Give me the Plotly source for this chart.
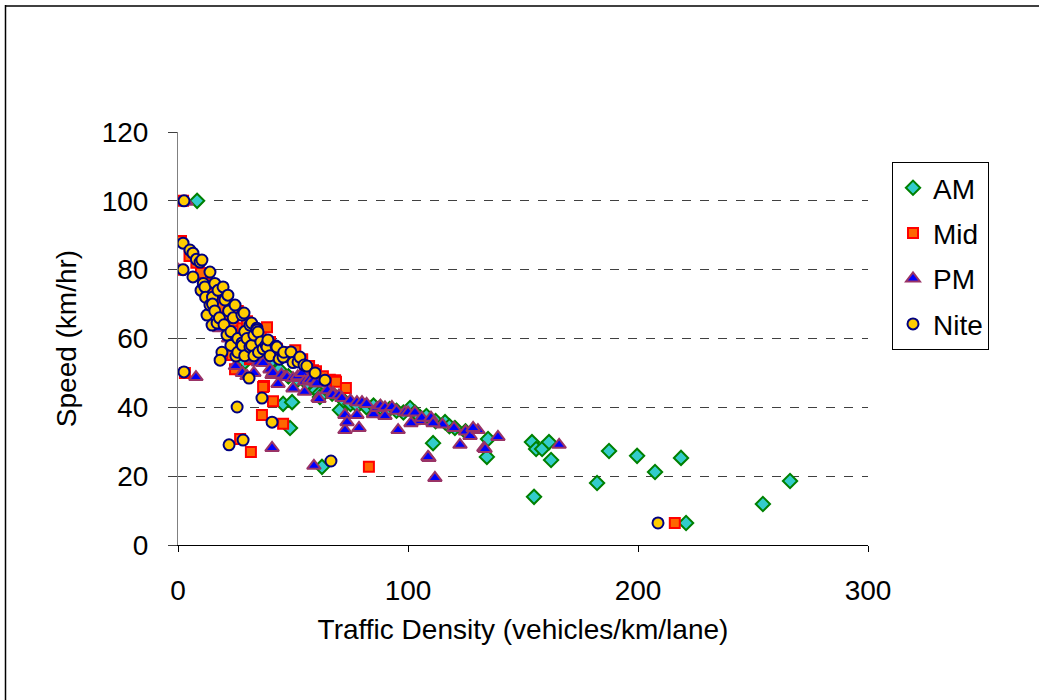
import plotly.graph_objects as go

# ---------------- data ----------------
am_x = [8.3, 12, 15, 18, 22, 25, 27.8, 29.1, 30, 33, 36, 40, 44, 45.7, 48, 49.6, 48.7, 52, 56, 60, 61.7,
        61.7, 62.6, 64, 67, 70.4, 72, 75, 78, 82, 85, 88, 92, 95, 98, 100.9, 103, 105.2, 108, 110.9, 112,
        116.1, 118, 120.4, 125, 134.8, 134.3, 153.9, 155.7, 158.3, 161.3, 162.2, 154.8, 187.4, 182.2,
        199.6, 207.4, 218.7, 220.9, 254.3, 266.1]
am_y = [100, 77, 74, 70, 66, 63, 53.2, 53.2, 60, 58, 55, 53, 51, 41.0, 49, 41.5, 34.0, 48, 47, 45, 44.2,
        43.0, 22.7, 46.5, 44, 39.2, 42, 41, 40.5, 40, 40.5, 40, 39.5, 39, 38.5, 39.8, 38.5, 37.2, 37.5, 29.6, 36,
        35.7, 34.5, 34.0, 33, 30.8, 25.6, 29.9, 27.9, 27.9, 29.9, 24.7, 14.0, 27.3, 18.0,
        25.9, 21.2, 25.3, 6.4, 11.9, 18.6]

mid_x = [2.2, 1.3, 0.9, 5, 8, 10, 12, 14, 16, 18, 20, 22, 24, 26, 28, 30, 32, 34, 36, 38, 38.7, 40, 43,
         46, 47.4, 49, 51, 54, 57, 58.7, 60, 63, 66, 68.3, 68.7, 73, 3.0, 24.8, 31.3, 31.3, 37.4, 37,
         41.3, 36.5, 45.7, 27.0, 31.7, 83.0, 23.5, 216]
mid_y = [100, 88.3, 80, 84, 82, 79, 76, 73, 71, 69, 72, 67, 65, 68, 63, 65, 60, 62, 61, 58, 63.3, 59, 57,
         56, 54.6, 55, 56.6, 54, 52, 50.8, 50.5, 49, 48, 47.9, 47.4, 45.6, 50.0, 51.1, 54.0, 54.3, 46.2, 45.9,
         41.8, 37.8, 35.2, 30.8, 27.0, 22.7, 55.2, 6.4]

pm_x = [3.5, 0, 7.8, 15, 18, 22, 25, 25, 28, 28, 30, 33, 33, 35, 37, 40, 40.9, 41.3, 45, 46.5, 47.4, 50,
        50, 52, 53.9, 55, 55, 57, 58.7, 60, 60.4, 60.9, 65, 67.4, 67.4, 70, 71.3, 72.6, 75, 77.8, 77.8,
        80, 82, 85, 86.5, 88, 90, 90, 93, 95, 98.7, 100, 103, 105, 106, 110, 115, 120, 125,
        30, 40.9, 59.1, 61.3, 43.5, 72.6, 78.7, 73.5, 95.7, 101.3, 109.1, 111.7, 122.6, 110.9,
        127, 130.4, 133, 139.1, 128.3, 108.7, 165.7, 133.5]
pm_y = [99.7, 80, 48.8, 68, 63, 60, 58, 52, 56, 50, 55, 54, 50, 53, 52.9, 51, 49.4, 50, 49.5, 48.8, 48.8, 48.5,
        45.5, 49, 50, 47.5, 44.5, 48, 47.9, 47, 47, 42.7, 45, 44.2, 43.6, 43.5, 42.7, 37.8, 42, 41.5, 37.8,
        41.5, 41, 38, 39.8, 40.5, 40, 37.5, 40.1, 39, 38.6, 38.5, 38.5, 36, 37, 37, 35, 34, 33,
        49.1, 28.2, 23.0, 42.4, 46.8, 33.4, 34.0, 35.7, 33.4, 35.4, 25.3, 19.5, 29.1, 35.4,
        31.7, 33.4, 28.2, 31.4, 34.0, 25.6, 29.1, 27.9]

nite_x = [2.6, 2.2, 2.2, 6.5, 5.2, 6.5, 8, 9.6, 10.4, 10, 11, 11.7, 12, 12.6, 13.9, 13.9, 14.8, 15, 15,
          16, 16, 17.4, 17, 18, 19.1, 18.3, 19.6, 20, 20.4, 21.7, 21.3, 22, 23, 23, 24, 24.8, 25.2, 26, 26,
          27.8, 27.8, 28.7, 28, 29, 29, 30, 31.3, 31.3, 32, 32, 33, 33, 34.3, 34.3, 34.8, 35, 36, 37, 38.3,
          38.7, 39.1, 40, 42.6, 43, 44, 45.7, 46, 49.1, 50, 52.2, 53, 54.8, 56, 59.6, 63.9,
          2.6, 22.2, 28.3, 25.7, 30.9, 36.5, 40.9, 66.5, 208.7]
nite_y = [100, 87.7, 80, 77.9, 85.7, 84.8, 83, 82.2, 82.8, 74, 76, 75, 72, 66.8, 79.3, 69.7, 63.9, 72, 70,
          68, 76, 74, 64.5, 66, 56, 53.7, 75, 64, 71.2, 72.6, 61, 68, 62, 58, 66, 69.7, 54.9, 60, 56,
          66.8, 58.7, 67.4, 58, 62, 55, 60, 63.9, 57.5, 58, 64.5, 61, 55, 63, 62.5, 61.9, 56, 59, 57, 58.1,
          57.5, 59.6, 55, 57.8, 57.5, 54, 54.6, 56, 56.1, 53, 53.2, 54.6, 52.3, 52, 50, 47.9,
          50.3, 29.1, 30.5, 40.1, 48.5, 42.7, 35.7, 24.4, 6.4]

series = [
    ("AM", am_x, am_y, "diamond", 11, "#33CCCC", "#008000"),
    ("Mid", mid_x, mid_y, "square", 10, "#FF6600", "#FF0000"),
    ("PM", pm_x, pm_y, "triangle-up", 12, "#0000FF", "#993366"),
    ("Nite", nite_x, nite_y, "circle", 11, "#FFCC00", "#000080"),
]

FONT = "Liberation Sans, Arial, sans-serif"
FS = 28

W, H = 1039, 700
L, T = 178, 132
PW, PH = 690, 413

fig = go.Figure()
for name, xs, ys, sym, size, fill, line in series:
    fig.add_trace(go.Scatter(
        x=xs, y=ys, mode="markers", name=name, legendgroup=name,
        marker=dict(symbol=sym, size=size, color=fill, line=dict(color=line, width=2)),
    ))

px = lambda v: (v - L) / PW          # figure pixel -> paper x
py = lambda v: 1 - (v - T) / PH      # figure pixel -> paper y

fig.update_layout(
    width=W, height=H,
    margin=dict(l=L, r=W - L - PW, t=T, b=H - T - PH, autoexpand=False),
    paper_bgcolor="white", plot_bgcolor="white",
    font=dict(family=FONT, color="black", size=FS),
    showlegend=True,
    legend=dict(
        x=px(892), y=py(162), xanchor="left", yanchor="top",
        bordercolor="black", borderwidth=1, bgcolor="white",
        font=dict(size=FS, family=FONT), tracegroupgap=6,
        itemsizing="trace",
    ),
    xaxis=dict(
        range=[0, 300], tick0=0, dtick=100, showgrid=False, zeroline=False,
        showline=True, linecolor="black", linewidth=1,
        ticks="outside", ticklen=6, tickcolor="black",
        ticklabelstandoff=14,
        tickfont=dict(size=FS, family=FONT),
        title=dict(text="Traffic Density (vehicles/km/lane)", font=dict(size=FS, family=FONT), standoff=14),
    ),
    yaxis=dict(
        range=[0, 120], tick0=0, dtick=20, showgrid=True, gridcolor="#404040",
        griddash="dash", gridwidth=1, zeroline=False,
        showline=True, linecolor="#808080", linewidth=1,
        ticks="outside", ticklen=9, tickcolor="#404040",
        ticklabelstandoff=14,
        tickfont=dict(size=FS, family=FONT),
        title=dict(text="Speed (km/hr)", font=dict(size=FS, family=FONT), standoff=16),
    ),
    shapes=[
        dict(type="line", xref="paper", yref="paper", x0=px(5.5), x1=px(5.5), y0=py(5), y1=py(H + 10),
             line=dict(color="black", width=1.5)),
        dict(type="line", xref="paper", yref="paper", x0=px(5), x1=px(W + 10), y0=py(6), y1=py(6),
             line=dict(color="black", width=1.5)),
    ],
)

# Remove the browser's default 8px body margin so the figure fills the window exactly.
fig.write_html("out.html", config={"displayModeBar": False},
               post_script="document.body.style.margin='0px';")
